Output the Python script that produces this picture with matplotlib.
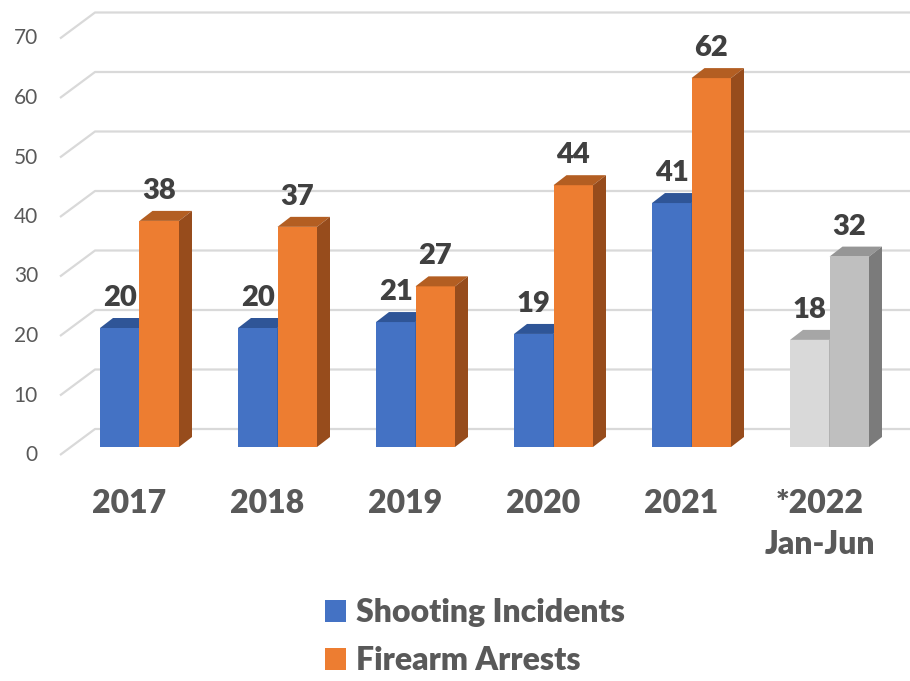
import matplotlib.pyplot as plt
from matplotlib.patches import Polygon, Rectangle, Patch
import numpy as np

# data
years = ['2017', '2018', '2019', '2020', '2021', '*2022\nJan-Jun']
shooting = [20, 20, 21, 19, 41, 18]
arrests = [38, 37, 27, 44, 62, 32]
yticks = [0, 10, 20, 30, 40, 50, 60, 70]

plt.rcParams['font.family'] = ['Lato', 'DejaVu Sans']

W, H = 910, 681
fig = plt.figure(figsize=(W / 100, H / 100), dpi=100)
ax = fig.add_axes([0, 0, 1, 1])
ax.axis('off')

# pixel scale of the layout
px_cat = 138.0      # px per category
px_val = 5.95       # px per unit value
x0_px = 139.5       # px of first group centre
y0_px = 447.0       # px (from top) of value 0 at bar front
ax.set_xlim(-x0_px / px_cat, (W - x0_px) / px_cat)
ax.set_ylim(-(H - y0_px) / px_val, y0_px / px_val)

def dx(p):
    return p / px_cat

def dy(p):
    return p / px_val

bw = dx(39.5)
ddx, ddy = dx(13), dy(10)            # bar depth
back_dy = dy(18)                     # back wall offset from bar fronts
front_dy = dy(-8)

# gridlines (back wall + floor slant)
x_left_back = dx(95 - x0_px)
x_left_front = dx(60 - x0_px)
x_right = dx(W - x0_px)
for t in yticks:
    ax.plot([x_left_front, x_left_back, x_right],
            [t + front_dy, t + back_dy, t + back_dy],
            color='#d9d9d9', lw=1.6, zorder=1, solid_capstyle='butt')
    ax.text(dx(38 - x0_px), t + front_dy, str(t), ha='right', va='center',
            fontsize=15, color='#595959')

def bar3d(x, v, c_front, c_top, c_side, z):
    ax.add_patch(Rectangle((x, 0), bw, v, facecolor=c_front, edgecolor='none', zorder=z))
    ax.add_patch(Polygon([(x, v), (x + bw, v), (x + bw + ddx, v + ddy), (x + ddx, v + ddy)],
                         closed=True, facecolor=c_top, edgecolor='none', zorder=z))
    ax.add_patch(Polygon([(x + bw, 0), (x + bw + ddx, ddy), (x + bw + ddx, v + ddy), (x + bw, v)],
                         closed=True, facecolor=c_side, edgecolor='none', zorder=z))

for i, (s, a) in enumerate(zip(shooting, arrests)):
    if i == len(years) - 1:
        cs = ('#d9d9d9', '#a6a6a6', '#8c8c8c')
        ca = ('#bfbfbf', '#969696', '#7b7b7b')
    else:
        cs = ('#4472c4', '#2f5597', '#2f5597')
        ca = ('#ed7d31', '#b35e22', '#974c1c')
    bar3d(i - bw, s, *cs, z=3 + 2 * i)
    bar3d(i, a, *ca, z=4 + 2 * i)
    ax.text(i - bw / 2, s + dy(30), str(s), ha='center', va='center',
            fontsize=21, fontweight='heavy', color='#404040', zorder=20)
    ax.text(i + bw / 2, a + dy(30), str(a), ha='center', va='center',
            fontsize=21, fontweight='heavy', color='#404040', zorder=20)
    ax.text(i + dx(-10), dy(-42), years[i], ha='center', va='top',
            fontsize=23, fontweight='heavy', color='#595959', linespacing=1.5)

handles = [Patch(facecolor='#4472c4'), Patch(facecolor='#ed7d31')]
fig.legend(handles, ['Shooting Incidents', 'Firearm Arrests'],
           loc='upper left', bbox_to_anchor=(325 / W, 1 - 598 / H),
           frameon=False, labelcolor='#595959',
           prop={'weight': 'heavy', 'size': 23},
           handlelength=0.66, handleheight=0.66, handletextpad=0.3,
           labelspacing=0.6, borderpad=0, borderaxespad=0)

fig.savefig('out.png', dpi=100)
